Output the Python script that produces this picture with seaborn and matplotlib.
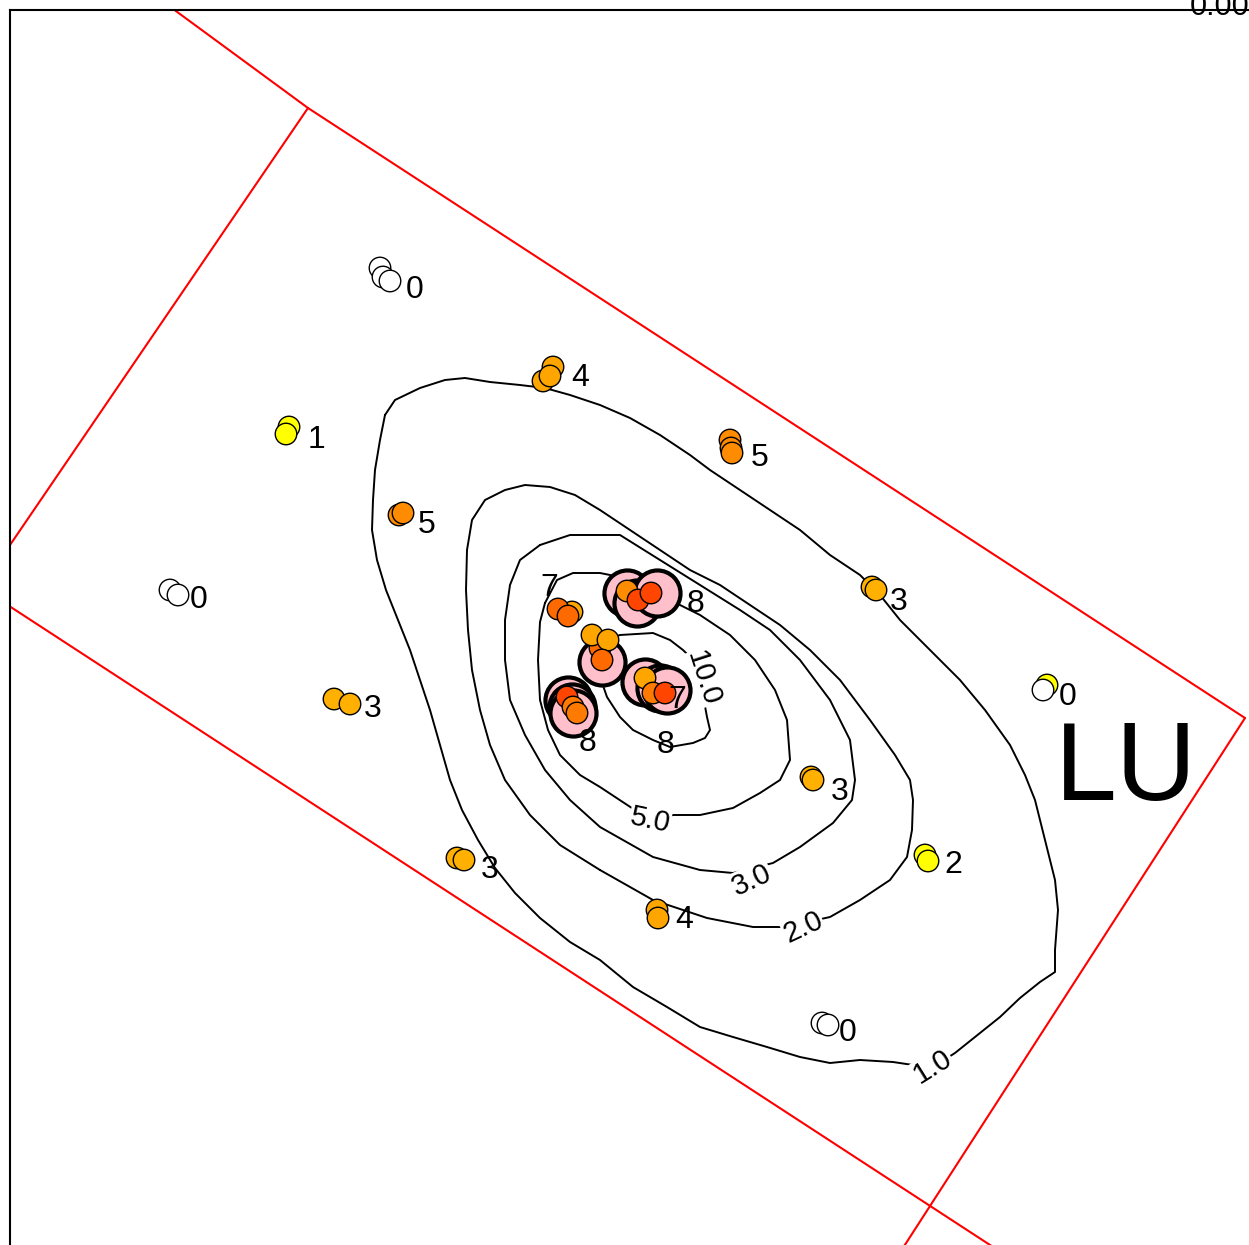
import matplotlib
matplotlib.use("Agg")
import matplotlib.pyplot as plt
import numpy as np
import pandas as pd
import seaborn as sns

# map units: x east, y south (screen-like)
# sample points
pt_x = [380, 383, 390,  553, 543, 550,  289, 286,  730, 731, 732,  399, 403,
        170, 178,  872, 876,  1047, 1043,  334, 350,  811, 813,  925, 928,
        457, 464,  657, 658,  822, 828,
        572, 558, 568,  627, 638, 651,  600, 592, 608, 602,
        567, 573, 577,  645, 653, 665]
pt_y = [268, 277, 281,  367, 381, 376,  427, 434,  440, 448, 453,  515, 513,
        590, 595,  587, 590,  685, 690,  699, 704,  777, 780,  855, 861,
        858, 860,  910, 918,  1023, 1025,
        612, 609, 616,  591, 600, 593,  648, 635, 640, 660,
        697, 707, 713,  678, 693, 693]
pt_val = [0, 0, 0,  4, 4, 4,  1, 1,  5, 5, 5,  5, 5,
          0, 0,  3, 3,  1, 0,  3, 3,  3, 3,  2, 2,
          3, 3,  4, 4,  0, 0,
          4, 7, 7,  5, 8, 8,  7, 4, 4, 7,
          8, 6, 6,  4, 6, 8]

# high value samples (pink rings)
ring_x = [627, 637, 657,  602,  568, 572, 573,  645, 660, 667]
ring_y = [593, 603, 593,  662,  700, 707, 713,  682, 688, 690]

# labels beside sample groups
lab_txt = ["0", "4", "1", "5", "5", "0", "3", "0", "3", "3", "2", "3", "4", "0",
           "7", "8", "8", "8", "7"]
lab_x = [415, 580, 317, 760, 427, 199, 899, 1068, 373, 840, 953, 490, 684, 848,
         549, 695, 588, 665, 677]
lab_y = [290, 378, 440, 458, 525, 600, 602, 697, 709, 792, 865, 870, 920, 1033,
         588, 604, 743, 745, 700]

# contour lines
c1_x = [385, 395, 420, 445, 465, 490, 520, 545, 570, 600, 630, 660, 690, 710, 740,
        770, 800, 830, 860, 880, 900, 930, 960, 985, 1010, 1025, 1035, 1045, 1055,
        1058, 1055, 1055, 1040, 1020, 1000, 975, 955, 933, 913, 893, 860, 830, 800,
        767, 733, 700, 667, 633, 600, 570, 540, 515, 495, 478, 462, 450, 440, 430,
        420, 410, 398, 386, 377, 372, 373, 375, 380, 385]
c1_y = [415, 400, 388, 380, 378, 382, 385, 388, 395, 405, 418, 435, 455, 470, 490,
        510, 530, 555, 575, 595, 620, 650, 680, 710, 745, 775, 800, 840, 880,
        910, 950, 972, 982, 998, 1017, 1037, 1053, 1067, 1065, 1062, 1060, 1063, 1057,
        1047, 1037, 1027, 1007, 987, 960, 942, 918, 893, 868, 840, 810, 780, 745, 710,
        680, 650, 620, 590, 560, 530, 500, 470, 440, 415]
c2_x = [600, 560, 530, 505, 490, 480, 472, 468, 466, 467, 472, 485, 505, 525, 550,
        575, 600, 630, 660, 690, 720, 750, 780, 810, 840, 870, 895, 910, 913, 912,
        907, 890, 860, 830, 785, 753, 707, 653, 600]
c2_y = [870, 845, 815, 780, 745, 710, 670, 630, 590, 550, 520, 500, 490, 485, 487,
        495, 510, 530, 550, 570, 585, 605, 625, 650, 680, 720, 755, 780, 800, 830,
        857, 880, 900, 917, 927, 927, 918, 900, 870]
c3_x = [540, 570, 620, 660, 700, 740, 770, 800, 830, 850, 855, 852, 833, 800, 773,
        733, 700, 653, 600, 570, 545, 525, 510, 505, 505, 510, 520, 540]
c3_y = [545, 535, 535, 560, 585, 610, 630, 660, 700, 740, 780, 800, 823, 847, 863,
        873, 870, 857, 827, 800, 770, 735, 700, 660, 620, 585, 560, 545]
c5_x = [545, 557, 573, 600, 610, 640, 670, 700, 730, 755, 775, 787, 790, 780, 760,
        733, 700, 673, 650, 600, 580, 560, 548, 540, 538, 540, 545]
c5_y = [603, 580, 573, 573, 575, 585, 600, 615, 635, 660, 690, 720, 760, 780, 793,
        808, 815, 815, 820, 787, 775, 755, 730, 700, 660, 622, 603]
c10_x = [597, 605, 620, 653, 670, 683, 695, 702, 707, 710, 705, 693, 670, 653, 633,
         620, 607, 600, 597]
c10_y = [650, 640, 635, 633, 640, 650, 662, 690, 717, 730, 738, 743, 747, 740, 730,
         717, 697, 677, 650]

clab_txt = ["1.0", "2.0", "3.0", "5.0", "10.0"]
clab_x = [933, 803, 752, 650, 703]
clab_y = [1067, 927, 880, 820, 678]
clab_rot = [32, 25, 25, -12, -72]

# grid cell boundaries
grid_x = [[150, 308, 1245], [1245, 890], [-20, 1010], [308, -20]]
grid_y = [[-8, 108, 718], [718, 1268], [587, 1258], [108, 589]]

pal = {0: "white", 1: "#ffff00", 2: "#ffff00", 3: "#ffb000", 4: "#ffa500",
       5: "#ff8c00", 6: "#ff7a00", 7: "#ff6a00", 8: "#ff4500"}

sns.set_style("white")
plt.rcParams["font.family"] = ["Liberation Sans", "DejaVu Sans"]
plt.rcParams["text.color"] = "black"

fig = plt.figure(figsize=(12.49, 12.45), dpi=100)
ax = fig.add_axes([10 / 1249, 0, 1 - 10 / 1249, 1 - 10 / 1245])
ax.set_xlim(10, 1249)
ax.set_ylim(1245, 10)
for s in ["right", "bottom"]:
    ax.spines[s].set_visible(False)
for s in ["left", "top"]:
    ax.spines[s].set_color("black")
    ax.spines[s].set_linewidth(1.5)
ax.set_xticks([])
ax.set_yticks([])

for gx, gy in zip(grid_x, grid_y):
    ax.plot(gx, gy, color="red", lw=1.5, zorder=1)

for cx, cy in [(c1_x, c1_y), (c2_x, c2_y), (c3_x, c3_y), (c5_x, c5_y), (c10_x, c10_y)]:
    ax.plot(cx, cy, color="black", lw=1.4, zorder=2)
for t, x, y, r in zip(clab_txt, clab_x, clab_y, clab_rot):
    ax.text(x, y, t, fontsize=21, rotation=r, ha="center", va="center", zorder=3,
            color="black",
            bbox=dict(boxstyle="square,pad=0.02", fc="white", ec="none"))

rings = pd.DataFrame({"x": ring_x, "y": ring_y})
sns.scatterplot(data=rings, x="x", y="y", s=1100, color="#ffc0cb", edgecolor="black",
                linewidth=3, ax=ax, zorder=4)

pts = pd.DataFrame({"x": pt_x, "y": pt_y, "val": pt_val})
sns.scatterplot(data=pts, x="x", y="y", hue="val", palette=pal, s=240,
                edgecolor="black", linewidth=1, legend=False, ax=ax, zorder=5)

for t, x, y in zip(lab_txt, lab_x, lab_y):
    ax.text(x, y, t, fontsize=23, ha="center", va="center", zorder=6, color="black")

ax.text(1055, 800, "LU", fontsize=80, ha="left", va="baseline", zorder=6, color="black")
fig.text(1190 / 1249, 1 - 15 / 1245, "0.00", fontsize=22, ha="left", va="baseline",
         color="black")

ax.set_xlabel("")
ax.set_ylabel("")
fig.savefig("out.png", dpi=100)
